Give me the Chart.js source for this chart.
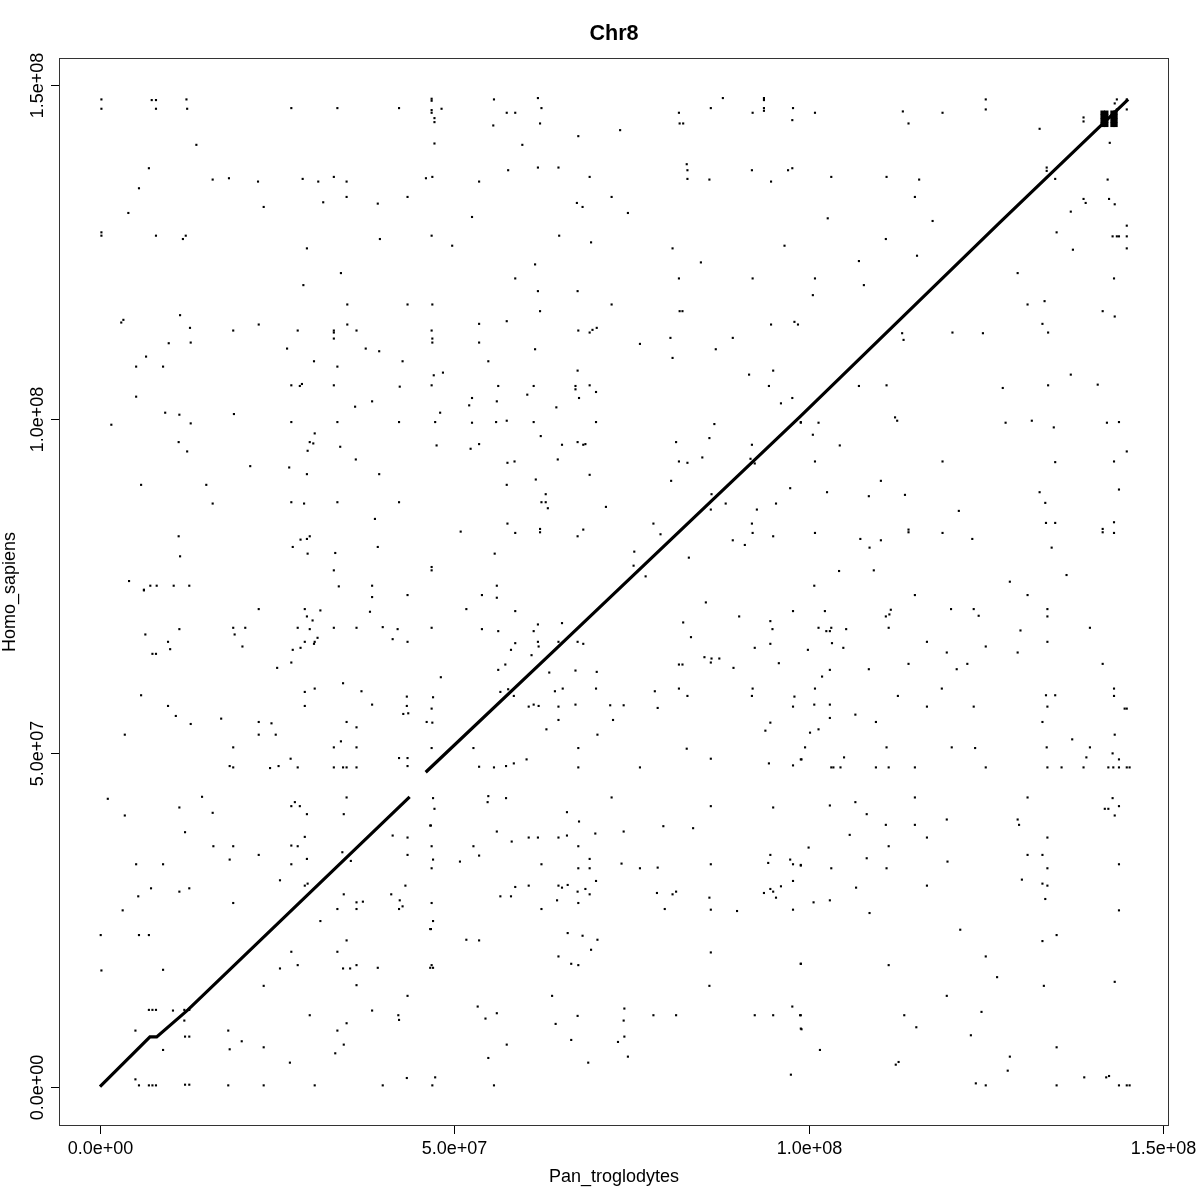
<!DOCTYPE html>
<html><head><meta charset="utf-8">
<script src="https://cdn.jsdelivr.net/npm/chart.js@4.4.1/dist/chart.umd.min.js"></script>
<style>html,body{margin:0;padding:0;background:#fff}canvas{display:block}</style>
</head><body>
<canvas id="c" width="1200" height="1200" style="width:1200px;height:1200px"></canvas>
<script>
const chartTitle = "Chr8";
const xTitle = "Pan_troglodytes";
const yTitle = "Homo_sapiens";
const tickValues = [0, 5e7, 1e8, 1.5e8];
const tickLabels = ["0.0e+00", "5.0e+07", "1.0e+08", "1.5e+08"];
const MB = 1e6;

// main collinear alignment (positions in Mb); null = break between the two arms
const diagPan  = [0, 7.05, 8.0, 12.4, 43.7, null, 45.96, 64.2, 98.8, 127.0, 145.1];
const diagHomo = [0, 7.45, 7.45, 11.5, 43.4, null, 47.07, 65.4, 100.3, 129.4, 147.8];

// dense cluster near the q-terminal end (Mb)
const blockPan  = [141.5, 142.0, 142.9, 143.3];
const blockHomo = [144.0, 144.6, 145.2, 145.8];

// scattered off-diagonal hits [Pan_troglodytes Mb, Homo_sapiens Mb]
const hits = [
[0.2,147.8],[0.2,146.4],[7.3,147.7],[7.9,147.7],[7.9,146.4],[12.2,147.8],[12.3,146.4],[27.0,146.5],[33.5,146.5],[42.2,146.5],
[13.6,141.0],[6.9,137.5],[15.9,135.8],[18.2,136.0],[22.3,135.5],[28.6,135.9],[30.8,135.5],[33.0,136.2],[34.8,135.5],[46.0,136.0],
[5.5,134.5],[34.8,133.2],[43.4,133.2],[31.5,132.4],[39.2,132.2],[23.1,131.7],[4.0,130.8],
[0.2,127.9],[0.2,127.4],[7.9,127.4],[11.7,126.9],[12.1,127.4],[39.5,126.9],[29.2,125.5],[34.0,121.8],[28.7,120.0],
[34.9,117.1],[43.4,117.1],[11.3,115.5],[3.0,114.4],[3.3,114.8],[12.7,113.6],[18.8,113.2],[22.4,114.1],[27.9,113.2],[33.0,113.2],[33.0,112.9],[34.9,114.1],[36.2,113.2],[33.0,112.0],
[9.7,111.3],[12.8,111.4],[26.4,110.5],[37.5,110.5],[39.4,110.1],[6.5,109.3],[5.1,107.8],[8.9,107.8],[30.2,108.6],[33.5,107.8],[42.7,108.6],
[27.0,105.0],[28.2,104.9],[28.5,105.2],[33.0,105.0],[42.3,104.8],[5.1,103.3],[38.4,102.6],[36.0,101.8],[9.2,100.9],[11.2,100.6],[18.9,100.7],
[1.6,99.1],[12.8,99.3],[27.0,99.5],[33.5,99.5],[42.2,99.5],[30.3,97.8],[29.6,96.5],[30.1,96.3],[29.3,95.2],[33.9,95.8],[11.1,96.5],[12.3,95.1],
[36.1,93.9],[21.2,92.9],[26.7,92.7],[29.2,91.7],[39.4,91.7],[5.8,90.1],[15.0,90.1],[15.9,87.3],[27.0,87.5],[28.8,87.3],[33.5,87.5],[42.2,87.5],
[38.8,85.0],[11.1,82.4],[28.3,81.9],[29.2,82.0],[29.6,82.4],[27.2,80.8],[39.2,80.8],[29.3,79.8],[33.2,79.9],[11.3,79.4],[33.0,77.3],
[4.1,75.7],[7.1,75.0],[8.0,75.0],[10.4,75.0],[12.6,75.0],[6.2,74.3],[33.7,74.9],[38.4,75.0],
[46.8,147.9],[46.8,147.6],[46.8,146.2],[46.8,145.8],[47.2,145.0],[47.2,144.4],[48.2,146.4],
[47.2,141.2],[55.6,147.8],[61.8,148.0],[62.3,146.5],[57.4,145.8],[58.6,145.8],[55.5,143.9],[62.1,144.2],[67.5,142.3],[73.4,143.2],[59.6,141.0],
[87.9,148.0],[86.2,146.5],[93.7,148.0],[93.7,147.7],[93.7,146.5],[93.7,146.1],[97.8,146.5],[92.1,145.8],[81.7,145.8],[81.8,144.2],[82.3,144.2],[97.7,144.7],
[46.9,136.2],[53.5,135.5],[57.6,137.2],[61.8,137.6],[64.7,137.6],[69.1,136.2],[72.2,133.2],[67.3,132.3],[68.1,131.7],[74.5,130.8],[52.5,130.2],
[82.8,138.1],[82.9,137.2],[82.9,135.9],[86.0,135.8],[92.0,137.2],[94.7,135.5],[97.1,137.2],[97.7,137.5],
[46.8,127.4],[49.7,125.9],[64.8,127.4],[69.3,126.4],[61.4,123.1],[58.6,121.0],[80.8,125.5],[84.8,123.4],[81.7,121.0],[92.1,121.0],[96.6,125.9],
[61.8,119.1],[67.4,119.1],[72.2,117.1],[46.9,117.1],[62.1,116.1],[81.8,116.1],[82.2,116.1],[53.5,114.2],[57.4,114.6],
[46.8,113.2],[46.9,112.0],[46.9,111.4],[53.5,111.4],[67.5,113.2],[69.1,112.9],[69.5,113.3],[70.1,113.6],[76.2,111.2],[61.4,110.4],[80.5,112.1],[80.8,109.1],[86.9,110.4],[89.3,112.1],[94.7,114.1],[98.0,114.5],[98.5,114.1],
[54.8,108.6],[47.1,106.5],[48.4,106.9],[67.4,107.2],[46.8,105.0],[56.2,104.9],[61.2,104.9],[67.1,104.9],[67.1,104.4],[67.6,103.1],[69.1,105.0],[70.0,104.0],[60.3,103.6],[52.5,103.1],[52.1,102.0],[56.0,102.6],[64.4,101.7],
[91.6,106.6],[95.0,107.2],[94.4,104.9],[97.7,103.1],[96.1,102.3],[48.0,100.9],[47.3,99.5],[52.5,99.4],[55.9,99.5],[57.4,99.7],[61.2,99.5],[70.0,99.5],[86.7,99.2],[98.9,99.5],
[47.5,96.0],[52.3,95.5],[53.5,96.2],[62.2,97.4],[65.2,96.1],[67.4,96.5],[68.2,96.1],[68.5,96.2],[81.3,96.5],[86.0,97.1],[92.0,96.1],[57.5,93.4],[58.5,93.6],[64.6,93.9],[81.7,93.6],[82.9,93.4],[85.0,94.2],[91.8,94.0],[92.4,93.3],
[69.1,91.6],[57.4,90.1],[61.5,90.9],[80.6,90.7],[62.9,88.7],[62.3,87.5],[62.9,87.5],[63.2,86.6],[71.4,86.8],[86.3,88.7],[88.3,87.3],[86.2,86.4],[92.7,86.4],[95.4,87.3],[97.4,89.6],
[50.9,83.1],[57.5,84.3],[58.6,82.9],[62.1,83.5],[62.1,83.0],[67.4,82.4],[68.2,83.4],[78.1,84.3],[79.1,82.7],[92.0,84.3],[92.1,82.9],[95.0,82.4],[89.3,81.8],[91.0,81.1],
[55.7,79.8],[75.4,80.1],[75.3,78.0],[77.0,76.4],[83.1,79.2],[46.8,77.8],[46.8,77.3],[56.0,75.0],
[100.9,145.8],[113.3,146.0],[118.9,145.8],[125.0,147.8],[125.0,146.3],[114.1,144.2],[132.6,143.4],[138.8,145.1],[138.8,144.5],
[143.5,147.8],[144.9,147.8],[143.5,146.3],[144.9,146.3],[143.2,147.2],[142.5,141.3],
[103.2,136.2],[111.0,136.2],[115.6,135.8],[115.0,133.2],[102.7,130.0],[117.5,129.6],[110.9,126.9],[115.3,124.4],
[133.6,137.6],[133.6,137.1],[134.8,135.9],[142.2,135.8],[138.8,132.9],[139.1,132.3],[142.4,132.9],[143.2,132.1],[137.0,131.0],[144.9,128.9],[135.0,127.9],
[142.9,127.3],[143.5,127.3],[143.8,127.3],[144.9,127.3],[144.9,125.5],[137.3,125.3],[107.1,123.6],[129.5,121.8],[100.9,121.0],[107.8,120.0],[100.6,118.5],[143.1,121.0],
[130.9,117.1],[133.3,117.6],[141.5,116.1],[143.2,115.3],[133.0,114.2],[133.8,112.9],[113.2,112.8],[113.4,111.8],[120.3,112.9],[124.6,112.8],
[137.0,106.6],[140.8,105.1],[107.1,104.9],[111.0,105.0],[127.4,104.6],[133.8,105.0],[98.9,99.4],[101.4,99.4],[112.2,100.2],[112.5,99.7],[127.8,99.4],[131.5,99.7],[134.6,98.7],[142.1,99.4],[143.8,99.5],
[100.6,97.6],[104.4,96.0],[100.9,93.6],[118.9,93.6],[134.8,93.5],[143.1,93.6],[144.9,95.1],[110.2,90.7],[102.6,89.0],[108.5,88.4],[113.6,88.6],[132.6,89.0],[133.4,87.4],[143.8,89.4],
[121.2,86.2],[133.5,84.4],[134.8,84.4],[143.1,84.5],[143.1,82.9],[141.5,83.5],[141.5,83.0],[100.9,82.9],[114.1,83.4],[114.1,83.0],[118.9,82.9],[107.3,82.0],[110.2,81.8],[123.1,82.0],[108.6,80.7],[134.3,80.7],
[104.3,77.2],[109.2,77.3],[128.4,75.6],[136.4,76.6],[100.8,75.0],
[6.2,74.4],[43.4,73.6],[38.4,73.3],[38.1,71.1],[22.4,71.5],[28.9,71.5],[31.1,71.3],[29.2,70.4],[30.0,69.8],[27.9,68.7],[29.6,68.5],[18.8,68.7],[20.5,68.7],[19.0,67.7],[11.2,68.5],[6.4,67.7],
[33.0,68.7],[36.2,68.7],[39.9,68.8],[42.0,68.5],[41.3,67.0],[43.4,66.6],[28.9,66.6],[30.7,67.2],[30.2,66.3],[30.3,66.6],[9.6,66.6],[9.9,65.5],[20.1,65.9],[7.4,64.8],[7.9,64.8],[27.2,65.4],[28.3,65.7],
[27.0,63.5],[25.0,62.7],[34.3,60.4],[28.9,59.1],[30.3,59.6],[36.9,59.2],[5.8,58.6],[9.6,57.0],[10.7,55.5],[28.9,57.0],[38.4,57.2],[43.3,58.4],[43.3,57.0],[42.8,55.8],[43.5,55.9],
[17.1,55.1],[12.8,54.3],[22.4,54.6],[24.2,54.4],[22.4,52.7],[24.8,52.7],[34.8,54.6],[36.2,53.8],[46.1,54.6],[3.5,52.7],[18.8,50.8],[33.0,50.8],[34.0,51.7],[36.2,50.8],
[18.3,48.0],[18.8,47.8],[24.0,47.7],[25.2,48.0],[27.9,47.8],[33.0,47.8],[34.3,47.8],[34.8,47.8],[36.2,47.8],[42.2,49.2],[43.4,49.2],[43.4,48.0],[26.9,49.1],
[1.1,43.1],[14.4,43.4],[3.5,40.6],[11.2,41.8],[15.9,41.0],[27.0,42.0],[27.5,42.6],[28.2,42.0],[29.2,40.8],[34.8,43.3],[34.4,40.8],
[12.0,38.1],[16.0,36.0],[18.8,36.0],[18.3,34.0],[22.4,34.7],[27.0,36.1],[27.9,36.0],[28.9,37.4],[29.2,34.1],[27.0,33.3],[34.2,35.1],[35.4,33.8],[41.3,37.6],[43.4,37.3],[43.4,34.7],[5.1,33.3],[8.9,33.3],
[25.4,30.9],[28.9,30.1],[29.3,30.4],[7.2,29.7],[11.2,29.2],[12.6,29.7],[5.4,28.5],[3.2,26.4],[18.8,27.5],[34.4,28.8],[36.2,27.6],[37.1,27.7],[36.2,26.6],[33.5,26.6],[41.1,28.8],[42.3,27.9],[42.7,27.0],[42.2,26.6],[43.1,30.1],
[31.1,24.8],[46.6,23.6],[46.6,17.8],[46.6,39.1],[0.1,22.7],[5.5,22.7],[6.9,22.7],[0.2,17.4],[8.9,17.5],[27.0,20.2],[27.9,18.2],[25.4,17.7],[33.5,20.2],[34.8,21.9],[34.3,17.7],[35.3,17.7],[36.2,18.2],[39.2,17.8],
[23.1,15.1],[36.2,15.2],[43.4,13.6],
[6.9,11.5],[7.4,11.5],[7.9,11.5],[10.3,11.4],[11.9,11.5],[12.6,11.5],
[11.9,9.9],[5.0,8.4],[12.0,7.5],[12.6,7.5],
[8.9,5.5],[18.1,8.4],[20.0,6.8],[18.3,5.6],[23.1,5.9],[26.8,3.6],[29.6,10.7],[33.5,8.4],[34.8,9.5],[34.4,6.3],[33.2,5.0],[38.4,11.4],[42.1,10.7],[42.2,10.0],
[5.0,1.1],[5.5,0.2],[6.9,0.2],[7.4,0.2],[7.9,0.2],[12.0,0.3],[12.6,0.3],[18.1,0.2],[23.1,0.2],[30.3,0.2],[39.9,0.2],[43.3,1.3],
[53.9,73.6],[56.0,73.2],[51.7,71.5],[58.6,71.2],[46.8,68.7],[53.9,68.5],[56.2,68.2],[61.8,69.2],[61.2,68.2],[61.8,66.6],[61.9,65.9],[58.6,66.4],[58.0,65.4],[65.2,69.4],[64.7,66.6],[67.4,66.6],[68.2,66.3],
[60.9,64.6],[57.2,63.2],[56.2,62.4],[48.1,61.3],[63.4,62.0],[67.1,62.3],[70.1,62.1],[56.5,59.1],[57.6,59.5],[58.4,58.5],[64.2,59.2],[65.3,59.6],[70.0,59.6],[47.0,58.3],[46.8,56.6],[46.9,54.5],
[60.5,56.9],[61.2,57.2],[61.9,57.0],[64.7,56.9],[67.1,57.2],[72.0,57.1],[73.9,57.1],[64.7,54.9],[72.4,54.9],[63.0,53.5],[70.2,52.7],[46.8,50.7],[52.7,50.7],[67.5,50.7],
[53.5,47.9],[55.6,47.8],[57.3,48.0],[58.4,48.4],[60.2,49.0],[67.5,47.8],[76.2,47.8],
[47.0,43.2],[47.2,41.6],[54.8,43.5],[54.7,42.6],[57.3,43.2],[72.2,43.3],[65.9,41.1],[67.6,39.7],[46.7,39.1],[56.0,38.2],[58.1,36.7],[60.5,37.3],[61.8,37.3],[64.7,37.3],[65.9,37.6],[69.9,37.9],[73.9,38.2],[67.5,36.0],[52.7,36.0],[53.5,34.6],[50.8,33.7],[46.8,36.0],[47.0,34.0],[46.8,32.7],
[62.3,33.3],[67.5,32.7],[69.1,34.1],[69.1,32.7],[73.6,33.4],[76.2,32.7],[78.7,32.8],[70.0,30.8],[58.6,29.9],[60.5,30.1],[64.7,30.1],[65.2,29.8],[66.0,30.2],[67.4,29.2],[68.5,29.6],[69.1,28.8],[56.5,28.5],[58.0,28.5],[64.5,27.9],[67.5,27.5],[62.3,26.6],
[78.6,29.0],[80.8,28.8],[81.3,29.2],[79.7,26.6],[46.8,27.5],[47.0,24.8],[46.7,23.6],[51.7,22.0],[53.5,21.9],[66.0,23.0],[68.1,22.6],[70.2,22.0],[69.3,20.5],[64.7,19.5],[66.5,18.4],[67.5,18.2],[46.8,18.2],[47.0,17.8],
[63.8,13.6],[53.3,12.0],[54.4,10.2],[56.0,11.0],[64.3,9.4],[67.4,10.6],[74.0,11.7],[73.9,9.9],[74.0,7.5],[73.1,6.7],[74.5,4.5],[66.5,7.0],[57.4,6.3],[54.8,4.3],[68.9,3.6],[78.1,10.7],[81.3,10.7],[47.3,1.4],[46.9,0.2],[55.6,0.2],
[81.7,63.2],[82.2,63.2],[82.3,69.5],[83.4,67.3],[85.5,72.5],[90.2,70.4],[85.3,64.3],[86.3,64.1],[87.4,64.1],[86.2,63.5],[89.4,62.7],[94.6,69.7],[94.9,68.5],[94.6,66.3],[92.4,65.7],[95.8,63.4],[97.8,71.2],
[78.3,59.2],[78.7,56.7],[81.7,59.6],[82.9,58.5],[92.1,59.6],[92.0,58.5],[98.0,58.4],[97.8,56.9],[94.6,54.5],[93.9,53.3],[82.8,50.6],[86.2,49.1],[94.4,48.4],[97.8,48.1],[98.9,49.0],
[86.2,42.0],[95.0,41.8],[79.5,39.0],[83.7,38.7],[86.2,33.3],[94.3,33.5],[94.6,34.7],[97.4,34.0],[97.8,33.3],[98.9,33.1],
[93.7,29.0],[94.6,29.6],[95.0,29.2],[95.4,28.3],[96.1,30.0],[97.8,30.8],[86.0,28.3],[86.2,26.5],[89.9,26.3],[97.8,26.5],[86.2,20.1],[86.0,15.1],[98.9,18.4],[92.4,10.7],[95.0,10.7],[97.7,12.0],[98.8,10.7],[98.9,8.7],[97.5,1.8],
[115.0,73.6],[130.9,73.6],[102.3,71.2],[111.6,71.4],[110.9,70.4],[111.4,70.7],[120.1,71.5],[123.3,71.5],[124.0,70.5],[133.7,71.5],[133.7,70.4],
[101.4,68.7],[102.5,68.2],[103.2,68.7],[103.0,68.2],[105.3,68.5],[111.3,68.7],[129.9,68.3],[139.7,68.7],[103.3,66.4],[104.9,65.7],[99.9,65.4],
[116.7,66.6],[119.5,65.0],[125.0,65.9],[129.5,65.0],[133.7,66.6],[114.1,63.3],[120.9,62.5],[122.4,63.3],[141.5,63.3],[103.0,62.4],[101.9,61.4],[108.5,62.5],
[100.9,59.6],[112.6,58.5],[118.8,59.6],[133.5,58.6],[134.8,58.6],[143.1,59.6],[143.1,58.5],[100.8,57.2],[103.0,57.2],[103.0,55.2],[116.7,56.9],[123.3,56.9],[133.7,56.9],[144.9,56.6],[144.6,56.6],
[106.6,55.7],[109.5,54.6],[133.0,54.6],[100.2,53.0],[101.4,53.5],[137.2,52.0],[143.2,52.7],[99.5,50.8],[99.0,49.0],[105.0,49.3],[111.0,50.8],[120.2,50.8],[123.5,50.7],[133.6,50.8],[139.7,50.8],[139.2,49.3],[142.9,49.9],[143.8,49.0],
[103.2,47.8],[103.5,47.8],[104.5,47.8],[109.5,47.8],[111.3,47.8],[115.0,47.8],[125.0,47.8],[133.7,47.8],[135.7,47.8],[138.8,47.8],[142.3,47.8],[143.0,47.8],[143.8,47.8],[144.9,47.8],[145.3,47.8],
[115.0,43.3],[130.9,43.3],[103.0,42.1],[106.6,42.6],[108.2,40.8],[142.9,43.2],[141.8,41.6],[142.3,41.6],[143.8,42.0],[143.2,40.6],
[119.5,40.0],[129.5,40.0],[129.7,39.2],[110.9,39.2],[115.0,39.2],[105.8,37.7],[116.7,37.3],[133.7,37.3],[100.0,35.8],[111.3,36.0],[130.9,34.7],[133.0,34.7],[108.2,34.2],[119.6,33.7],
[98.9,33.2],[103.2,32.7],[111.0,32.7],[133.7,32.7],[143.8,33.3],[106.7,29.8],[116.7,30.1],[130.1,31.0],[133.0,30.4],[133.7,30.1],[133.4,28.1],[100.7,27.6],[103.0,27.9],[108.6,26.0],[143.8,26.4],
[121.4,23.5],[135.0,22.7],[133.0,21.8],[98.9,18.4],[111.3,18.2],[125.0,19.5],[126.6,16.4],[133.2,15.1],[143.2,15.7],[119.5,13.6],[124.4,11.2],[98.9,10.7],[113.5,10.7],
[99.0,8.6],[115.2,8.9],[122.9,7.7],[101.6,5.5],[135.0,5.9],[112.3,3.3],[112.7,3.7],[128.4,4.5],[128.1,2.4],[138.9,1.4],[142.0,1.4],[142.4,1.6],[123.6,0.5],[125.0,0.2],[135.0,0.2],[143.8,0.2],[144.9,0.2],[145.3,0.2]
];

const diagData = diagPan.map((v, i) => v === null ? {x: 44.8 * MB, y: null} : {x: v * MB, y: diagHomo[i] * MB});
const hitData = hits.map(h => ({x: h[0] * MB, y: h[1] * MB}));
const blockData = [];
blockPan.forEach(px => blockHomo.forEach(py => blockData.push({x: px * MB, y: py * MB})));

const FONT = '"Liberation Sans", Arial, Helvetica, sans-serif';

const rFrame = {
  id: 'rFrame',
  afterDraw(chart) {
    const {ctx, chartArea: a, scales: {x, y}} = chart;
    ctx.save();
    ctx.strokeStyle = '#333';
    ctx.lineWidth = 1;
    ctx.strokeRect(a.left + 0.5, a.top + 0.5, a.right - a.left - 1, a.bottom - a.top - 1);
    ctx.strokeStyle = '#000';
    ctx.fillStyle = '#000';
    ctx.font = '18px ' + FONT;
    // x axis ticks and labels
    ctx.textAlign = 'center';
    ctx.textBaseline = 'alphabetic';
    tickValues.forEach((v, i) => {
      const px = Math.round(x.getPixelForValue(v)) + 0.5;
      ctx.beginPath();
      ctx.moveTo(px, a.bottom);
      ctx.lineTo(px, a.bottom + 8);
      ctx.stroke();
      ctx.fillText(tickLabels[i], px, a.bottom + 27.5);
    });
    // y axis ticks and rotated labels
    tickValues.forEach((v, i) => {
      const py = Math.round(y.getPixelForValue(v)) + 0.5;
      ctx.beginPath();
      ctx.moveTo(a.left, py);
      ctx.lineTo(a.left - 8, py);
      ctx.stroke();
      ctx.save();
      ctx.translate(a.left - 16.3, py);
      ctx.rotate(-Math.PI / 2);
      ctx.fillText(tickLabels[i], 0, 0);
      ctx.restore();
    });
    // axis titles
    const cx = (a.left + a.right) / 2, cy = (a.top + a.bottom) / 2;
    ctx.fillText(xTitle, cx, a.bottom + 56);
    ctx.save();
    ctx.translate(a.left - 44.5, cy);
    ctx.rotate(-Math.PI / 2);
    ctx.fillText(yTitle, 0, 0);
    ctx.restore();
    // main title
    ctx.font = 'bold 21.6px ' + FONT;
    ctx.fillText(chartTitle, cx, 40);
    ctx.restore();
  }
};

new Chart(document.getElementById('c'), {
  type: 'scatter',
  data: {
    datasets: [
      {label: 'collinear', data: diagData, showLine: true, spanGaps: false, borderColor: '#000', borderWidth: 3.2, pointRadius: 0, fill: false},
      {label: 'hits', data: hitData, pointStyle: 'rect', pointRadius: 1.5, backgroundColor: '#000', borderWidth: 0},
      {label: 'cluster', data: blockData, pointStyle: 'rect', pointRadius: 3.2, backgroundColor: '#000', borderWidth: 0}
    ]
  },
  options: {
    responsive: false,
    animation: false,
    devicePixelRatio: 1,
    layout: {padding: {left: 59, right: 31, top: 58, bottom: 74}},
    plugins: {legend: {display: false}, tooltip: {enabled: false}, title: {display: false}},
    scales: {
      x: {type: 'linear', min: -5.786e6, max: 1.5086e8, display: false},
      y: {type: 'linear', min: -5.883e6, max: 1.54e8, display: false}
    }
  },
  plugins: [rFrame]
});
</script>
</body></html>
